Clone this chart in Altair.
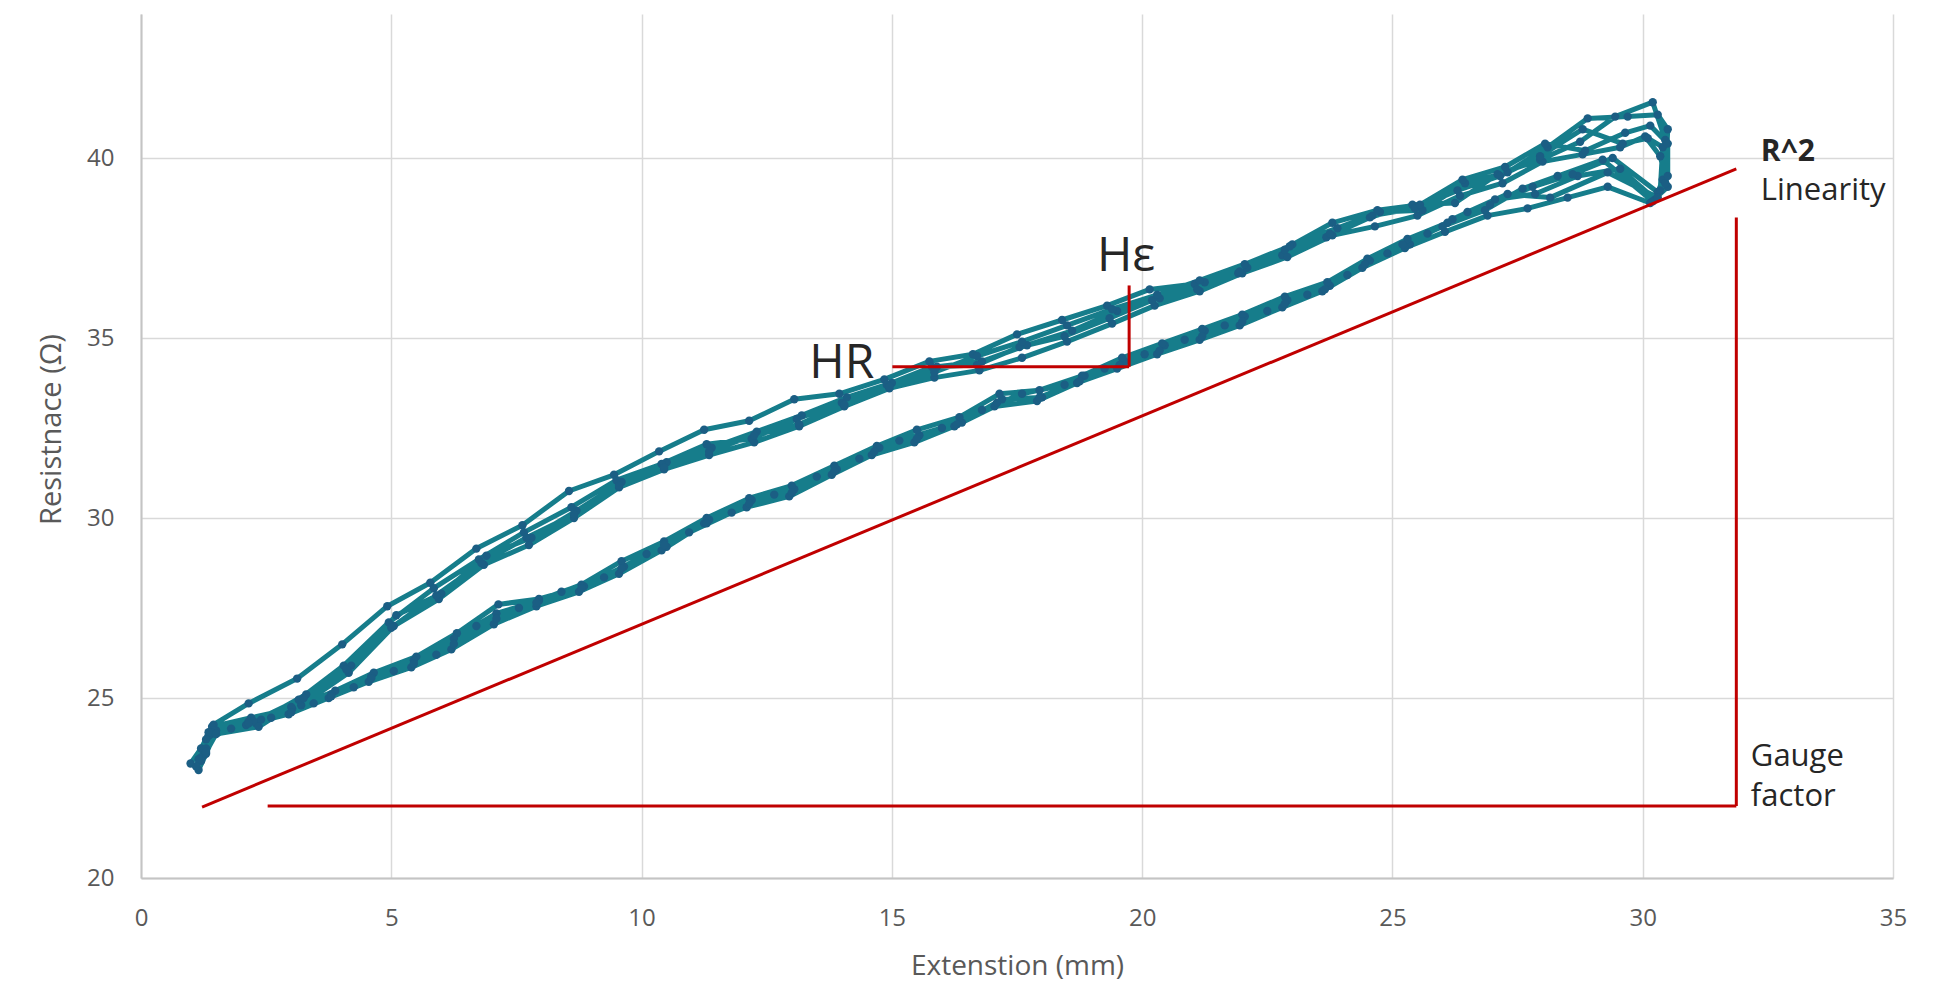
import altair as alt
import pandas as pd

# ---------------- data: loading / unloading cycles (Extension mm, Resistance ohm) ----------------
a_up_x = [0.99, 1.20, 1.45, 2.15, 3.12, 4.02, 4.92, 5.78, 6.70, 7.62, 8.55, 9.45, 10.35, 11.25, 12.15, 13.05, 13.95, 14.85,
          15.75, 16.62, 17.50, 18.40, 19.30, 20.15, 21.05, 21.92, 22.80, 23.68, 24.55, 25.40, 26.25, 27.10, 27.95, 28.75, 29.45, 30.20]
a_up_y = [23.18, 23.6, 24.26, 24.85, 25.54, 26.49, 27.55, 28.2, 29.15, 29.8, 30.75, 31.2, 31.85, 32.45, 32.7, 33.3, 33.45, 33.85,
          34.35, 34.55, 35.1, 35.5, 35.9, 36.35, 36.5, 36.8, 37.3, 37.8, 38.35, 38.7, 38.75, 39.55, 39.95, 40.45, 41.15, 41.55]
a_turn_x = [30.45, 30.4]
a_turn_y = [40.5, 39.4]
a_dn_x = [30.25, 29.55, 28.7, 27.85, 27.05, 26.2, 25.35, 24.55, 23.75, 22.9, 22.05, 21.25, 20.45, 19.65, 18.85, 18.0, 17.2, 16.4,
          15.55, 14.75, 13.9, 13.05, 12.2, 11.35, 10.5, 9.65, 8.85, 7.95, 7.14, 6.31, 5.5, 4.65, 3.88, 3.02, 2.2, 1.42, 1.25]
a_dn_y = [38.85, 39.7, 39.5, 39.0, 38.85, 38.3, 37.6, 37.15, 36.45, 36.05, 35.6, 35.2, 34.8, 34.35, 33.95, 33.35, 33.3, 32.65,
          32.3, 31.95, 31.35, 30.8, 30.5, 29.95, 29.2, 28.65, 28.1, 27.75, 27.6, 26.8, 26.15, 25.7, 25.2, 24.7, 24.45, 24.2, 23.55]

b_up_x = [1.25, 1.35, 2.3, 3.2, 4.15, 5.05, 5.95, 6.85, 7.75, 8.65, 9.55, 10.45, 11.35, 12.25, 13.15, 14.05, 14.95, 15.85,
          16.75, 17.6, 18.5, 19.4, 20.25, 21.15, 22.0, 22.9, 23.8, 24.65, 25.5, 26.35, 27.2, 28.0, 28.8, 29.55, 30.05]
b_up_y = [23.4, 23.95, 24.3, 24.8, 25.7, 27.0, 27.75, 28.7, 29.25, 30.0, 30.85, 31.35, 31.75, 32.1, 32.55, 33.1, 33.6, 33.9,
          34.1, 34.45, 34.9, 35.4, 35.9, 36.3, 36.8, 37.25, 37.85, 38.1, 38.4, 38.95, 39.3, 39.9, 40.1, 40.3, 40.6]
b_turn_x = [30.35, 30.5]
b_turn_y = [40.05, 39.2]
b_dn_x = [30.15, 29.3, 28.5, 27.7, 26.9, 26.05, 25.25, 24.4, 23.6, 22.8, 21.95, 21.15, 20.3, 19.5, 18.7, 17.9, 17.05, 16.25,
          15.45, 14.6, 13.8, 12.95, 12.1, 11.25, 10.4, 9.55, 8.75, 7.9, 7.05, 6.2, 5.4, 4.55, 3.75, 2.95, 2.1, 1.4, 1.2]
b_dn_y = [38.75, 39.2, 38.9, 38.6, 38.4, 37.95, 37.5, 36.95, 36.3, 35.85, 35.35, 34.95, 34.55, 34.15, 33.75, 33.25, 33.1, 32.55,
          32.1, 31.75, 31.2, 30.6, 30.3, 29.85, 29.1, 28.45, 27.95, 27.55, 27.05, 26.35, 25.85, 25.45, 25.0, 24.55, 24.25, 24.0, 23.35]

c_up_x = [1.15, 1.3, 1.5, 2.4, 3.3, 4.2, 5.1, 6.0, 6.9, 7.8, 8.7, 9.6, 10.5, 11.4, 12.3, 13.2, 14.1, 15.0, 15.9, 16.8, 17.7,
          18.6, 19.5, 20.35, 21.25, 22.1, 23.0, 23.9, 24.75, 25.6, 26.45, 27.3, 28.1, 28.9, 29.7, 30.3]
c_up_y = [23.0, 23.45, 24.1, 24.4, 25.1, 25.9, 27.3, 27.9, 28.95, 29.45, 30.2, 31.0, 31.55, 31.95, 32.4, 32.85, 33.35, 33.75,
          34.2, 34.35, 34.8, 35.2, 35.75, 36.1, 36.55, 36.95, 37.6, 38.05, 38.5, 38.55, 39.3, 39.6, 40.3, 41.1, 41.15, 41.2]
c_turn_x = [30.5, 30.45]
c_turn_y = [40.8, 39.3]
c_dn_x = [30.3, 29.4, 28.6, 27.8, 26.95, 26.1, 25.3, 24.5, 23.7, 22.85, 22.0, 21.2, 20.4, 19.6, 18.8, 17.95, 17.15, 16.35,
          15.5, 14.7, 13.85, 13.0, 12.15, 11.3, 10.45, 9.6, 8.8, 7.95, 7.1, 6.25, 5.45, 4.6, 3.8, 3.0, 2.15, 1.45, 1.3]
c_dn_y = [39.05, 40.0, 39.55, 39.2, 38.7, 38.2, 37.75, 37.2, 36.55, 36.15, 35.65, 35.25, 34.85, 34.45, 33.95, 33.55, 33.45, 32.8,
          32.45, 32.0, 31.45, 30.9, 30.55, 30.0, 29.35, 28.8, 28.15, 27.7, 27.35, 26.65, 26.05, 25.6, 25.1, 24.75, 24.35, 24.1, 23.6]

d_up_x = [1.2, 1.4, 2.25, 3.15, 4.05, 4.95, 5.85, 6.75, 7.65, 8.6, 9.5, 10.4, 11.3, 12.2, 13.1, 14.0, 14.9, 15.8, 16.7, 17.55,
          18.45, 19.35, 20.2, 21.1, 21.95, 22.85, 23.75, 24.6, 25.45, 26.3, 27.15, 27.95, 28.8, 29.6, 30.1]
d_up_y = [23.25, 24.05, 24.35, 24.95, 25.9, 27.1, 28.05, 28.85, 29.6, 30.3, 31.05, 31.5, 32.05, 32.2, 32.75, 33.2, 33.7, 34.2,
          34.25, 34.75, 35.05, 35.55, 36.05, 36.35, 36.85, 37.45, 37.9, 38.4, 38.6, 39.1, 39.5, 40.05, 40.8, 40.4, 40.55]
d_turn_x = [30.4, 30.35]
d_turn_y = [40.3, 39.1]
d_dn_x = [30.2, 29.2, 28.3, 27.6, 26.85, 26.0, 25.2, 24.45, 23.65, 22.85, 22.0, 21.2, 20.35, 19.55, 18.75, 17.95, 17.1, 16.3,
          15.5, 14.65, 13.85, 13.0, 12.15, 11.3, 10.45, 9.6, 8.8, 7.9, 7.1, 6.25, 5.45, 4.6, 3.8, 3.0, 2.15, 1.35, 1.15]
d_dn_y = [38.8, 39.95, 39.5, 39.15, 38.55, 38.1, 37.6, 37.05, 36.35, 35.95, 35.45, 35.05, 34.65, 34.25, 33.8, 33.35, 33.2, 32.6,
          32.2, 31.85, 31.3, 30.7, 30.4, 29.85, 29.25, 28.6, 28.05, 27.65, 27.2, 26.5, 25.95, 25.55, 25.05, 24.6, 24.3, 24.05, 23.3]

e_up_x = [1.3, 1.5, 2.35, 3.25, 4.1, 5.0, 5.9, 6.8, 7.7, 8.65, 9.55, 10.45, 11.35, 12.25, 13.15, 14.05, 14.95, 15.85, 16.7,
          17.6, 18.5, 19.4, 20.3, 21.15, 22.05, 22.95, 23.8, 24.7, 25.55, 26.4, 27.25, 28.05, 28.85, 29.65, 30.15]
e_up_y = [23.5, 24.0, 24.2, 25.0, 25.8, 26.95, 27.85, 28.75, 29.45, 30.1, 30.9, 31.4, 31.85, 32.3, 32.6, 33.15, 33.65, 34.05,
          34.5, 34.9, 35.35, 35.8, 36.2, 36.6, 37.05, 37.55, 38.2, 38.55, 38.7, 39.4, 39.75, 40.4, 40.2, 40.7, 40.9]
e_turn_x = [30.5, 30.5, 30.3]
e_turn_y = [40.4, 39.5, 38.9]
e_dn_x = [29.3, 28.15, 27.3, 26.5, 25.7, 24.9, 24.1, 23.3, 22.5, 21.65, 20.85, 20.05, 19.25, 18.45, 17.6, 16.8, 16.0, 15.15,
          14.35, 13.5, 12.65, 11.8, 10.95, 10.1, 9.25, 8.4, 7.55, 6.7, 5.9, 5.05, 4.25, 3.45, 2.6, 1.8, 1.3, 1.1]
e_dn_y = [39.6, 38.9, 39.0, 38.5, 37.9, 37.35, 36.75, 36.2, 35.75, 35.35, 34.95, 34.55, 34.15, 33.7, 33.45, 33.0, 32.5, 32.15,
          31.65, 31.15, 30.65, 30.15, 29.6, 29.0, 28.35, 27.95, 27.5, 27.0, 26.2, 25.75, 25.3, 24.85, 24.45, 24.15, 23.85, 23.1]

cycles = [
    (a_up_x + a_turn_x + a_dn_x, a_up_y + a_turn_y + a_dn_y),
    (b_up_x + b_turn_x + b_dn_x, b_up_y + b_turn_y + b_dn_y),
    (c_up_x + c_turn_x + c_dn_x, c_up_y + c_turn_y + c_dn_y),
    (d_up_x + d_turn_x + d_dn_x, d_up_y + d_turn_y + d_dn_y),
    (e_up_x + e_turn_x + e_dn_x, e_up_y + e_turn_y + e_dn_y),
]

xs, ys = [], []
for cx, cy in cycles:
    xs += cx
    ys += cy
df = pd.DataFrame({"x": xs, "y": ys, "i": list(range(len(xs)))})

# ---------------- annotation lines (data units) ----------------
seg_x = [1.22, 2.53, 31.87, 15.01, 19.74]
seg_y = [21.97, 22.0, 22.0, 34.2, 34.2]
seg_x2 = [31.87, 31.87, 31.87, 19.74, 19.74]
seg_y2 = [39.7, 22.0, 38.35, 34.2, 36.46]
segs = pd.DataFrame({"x": seg_x, "y": seg_y, "x2": seg_x2, "y2": seg_y2})

# ---------------- annotation texts ----------------
big_text = ["HR", "Hε"]
big_x = [14.0, 19.68]
big_y = [33.89, 36.86]
small_text = ["Linearity", "Gauge", "factor"]
small_x = [32.36, 32.16, 32.16]
small_y = [39.08, 23.35, 22.25]
bold_text = ["R^2"]
bold_x = [32.36]
bold_y = [40.16]

x_ticks = [0, 5, 10, 15, 20, 25, 30, 35]
y_ticks = [20, 25, 30, 35, 40]

FONT = "Open Sans"
LINE = "#167d8b"
DOT = "#1b5e84"
RED = "#c00000"
TXT = "#262626"
AX = "#595959"

xs_ = alt.Scale(domain=[0, 35], nice=False, zero=False)
ys_ = alt.Scale(domain=[20, 44], nice=False, zero=False)

x_axis = alt.Axis(values=x_ticks, title="Extenstion (mm)", grid=True, ticks=False, labelFlush=False,
                  labelPadding=28, labelFontSize=24, labelColor=AX, labelFont=FONT,
                  titleFontSize=28, titleColor=AX, titleFont=FONT, titleFontWeight="normal",
                  titleY=88, titleBaseline="middle")
y_axis = alt.Axis(values=y_ticks, title="Resistnace (Ω)", grid=True, ticks=False, labelFlush=False,
                  labelPadding=27, labelFontSize=24, labelColor=AX, labelFont=FONT,
                  titleFontSize=29, titleColor=AX, titleFont=FONT, titleFontWeight="normal",
                  titleX=-90, titleY=415, titleBaseline="middle")

base = alt.Chart(df)
line = base.mark_line(color=LINE, strokeWidth=5, strokeJoin="round", strokeCap="round").encode(
    x=alt.X("x:Q", scale=xs_, axis=x_axis),
    y=alt.Y("y:Q", scale=ys_, axis=y_axis),
    order="i:Q",
)
pts = base.mark_circle(color=DOT, size=70, opacity=1).encode(
    x=alt.X("x:Q", scale=xs_),
    y=alt.Y("y:Q", scale=ys_),
)

rules = alt.Chart(segs).mark_rule(color=RED, strokeWidth=3).encode(
    x=alt.X("x:Q", scale=xs_), y=alt.Y("y:Q", scale=ys_),
    x2="x2:Q", y2="y2:Q",
)

big = alt.Chart(pd.DataFrame({"x": big_x, "y": big_y, "t": big_text})).mark_text(
    font=FONT, fontSize=48, color=TXT, baseline="alphabetic", align="center"
).encode(x=alt.X("x:Q", scale=xs_), y=alt.Y("y:Q", scale=ys_), text="t:N")

small = alt.Chart(pd.DataFrame({"x": small_x, "y": small_y, "t": small_text})).mark_text(
    font=FONT, fontSize=31, color=TXT, baseline="middle", align="left"
).encode(x=alt.X("x:Q", scale=xs_), y=alt.Y("y:Q", scale=ys_), text="t:N")

bold = alt.Chart(pd.DataFrame({"x": bold_x, "y": bold_y, "t": bold_text})).mark_text(
    font=FONT, fontSize=30, fontWeight="bold", color=TXT, baseline="middle", align="left"
).encode(x=alt.X("x:Q", scale=xs_), y=alt.Y("y:Q", scale=ys_), text="t:N")

chart = alt.layer(line, pts, rules, big, small, bold).properties(
    width=1752, height=864,
    autosize=alt.AutoSizeParams(type="none"),
    padding={"left": 133, "top": 6, "right": 40, "bottom": 105},
).configure_view(strokeWidth=0).configure_axis(
    gridColor="#d9d9d9", gridWidth=1.5, domainColor="#c4c4c4", domainWidth=2
)

chart.save("out.html", embed_options={"renderer": "svg", "actions": False})
